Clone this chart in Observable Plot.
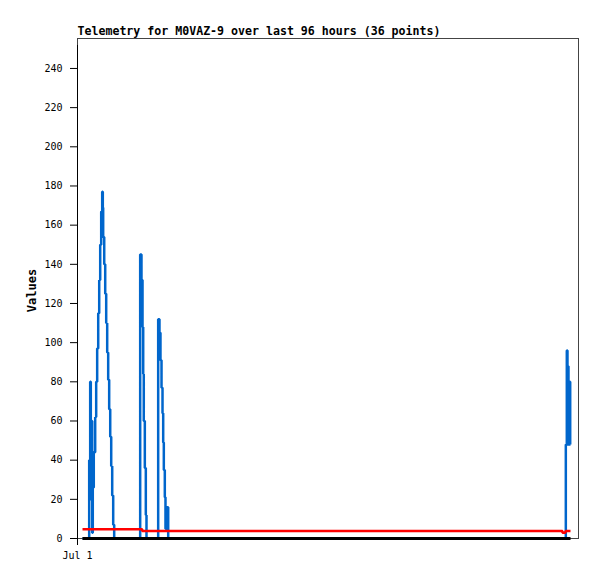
<!DOCTYPE html>
<html>
<head>
<meta charset="utf-8">
<script src="https://cdn.jsdelivr.net/npm/d3@7"></script>
<script src="https://cdn.jsdelivr.net/npm/@observablehq/plot@0.6"></script>
<style>
  html, body { margin: 0; padding: 0; background: #fff; }
</style>
</head>
<body>
<div id="chart"></div>
<script>
// Title and axis texts
const title = "Telemetry for M0VAZ-9 over last 96 hours (36 points)";
const yLabel = "Values";
const yTicks = [0, 20, 40, 60, 80, 100, 120, 140, 160, 180, 200, 220, 240];
const xTicks = [0];
const xTickLabels = ["Jul 1"];

// Blue series: hours since start of window, value
const blueHours = [0.96, 2.24, 2.43, 2.55, 2.68, 2.82, 2.93, 3.12, 3.39, 3.58, 3.77, 3.97, 4.16, 4.35, 4.54,
  4.73, 4.85, 4.92, 5.12, 5.31, 5.50, 5.69, 5.88, 6.07, 6.27, 6.46, 6.65, 6.84, 7.03,
  12.01, 12.26, 12.46, 12.59, 12.70, 12.90, 13.09, 13.22,
  15.46, 15.71, 15.90, 16.10, 16.29, 16.42, 16.54, 16.73, 16.86, 17.00, 17.11, 17.19, 17.38,
  93.57, 93.76, 93.89, 93.95, 94.08, 94.22, 94.41, 94.47];
const blueValues = [0, 40, 80, 20, 60, 3, 26, 44, 62, 80, 97, 115, 132, 150, 167,
  177, 169, 154, 140, 125, 110, 95, 81, 66, 52, 37, 22, 7, 0,
  145, 132, 108, 84, 60, 36, 12, 0,
  112, 105, 91, 77, 64, 49, 35, 21, 5, 16, 6, 16, 0,
  48, 96, 48, 88, 48, 80, 48, 48];

// Red series
const redHours = [0.96, 12.40, 92.93, 93.51, 94.47];
const redValues = [4.7, 3.8, 3.0, 3.8, 3.8];

// Black series
const blackHours = [0.96, 94.47];
const blackValues = [0, 0];

const blue = blueHours.map((h, i) => ({h, v: blueValues[i]}));
const red = redHours.map((h, i) => ({h, v: redValues[i]}));
const black = blackHours.map((h, i) => ({h, v: blackValues[i]}));

const chart = Plot.plot({
  width: 597,
  height: 579,
  marginLeft: 77,
  marginRight: 19,
  marginTop: 38,
  marginBottom: 41,
  style: {fontFamily: "DejaVu Sans Mono", fontSize: "10px", color: "#000", background: "#fff"},
  x: {domain: [0, 96]},
  y: {domain: [0, 255.3]},
  marks: [
    Plot.frame({stroke: "#444", strokeWidth: 1}),
    Plot.line(blue, {x: "h", y: "v", curve: "step-after", stroke: "#0066cc", strokeWidth: 2.5,
      strokeLinejoin: "miter", strokeLinecap: "butt"}),
    Plot.line(red, {x: "h", y: "v", curve: "step-after", stroke: "#ff0000", strokeWidth: 2.5,
      strokeLinejoin: "miter", strokeLinecap: "butt"}),
    Plot.line(black, {x: "h", y: "v", stroke: "#000", strokeWidth: 3, strokeLinecap: "butt"}),
    Plot.ruleX([0], {y1: 0, y2: 255.3, stroke: "#000", strokeWidth: 1, insetBottom: -7}),
    Plot.axisY({ticks: yTicks, tickSize: 7, tickPadding: 8, label: null, stroke: "#000"}),
    Plot.axisX({ticks: xTicks, tickFormat: (d, i) => xTickLabels[i], tickSize: 7, tickPadding: 6, label: null}),
    Plot.text([title], {frameAnchor: "top-left", textAnchor: "start", lineAnchor: "bottom", dy: -4,
      fontWeight: "bold", fontSize: 11.6}),
    Plot.text([yLabel], {frameAnchor: "left", rotate: -90, textAnchor: "middle", lineAnchor: "middle",
      dx: -45, dy: 2, fontWeight: "bold", fontSize: 12})
  ]
});
document.getElementById("chart").appendChild(chart);
</script>
</body>
</html>
